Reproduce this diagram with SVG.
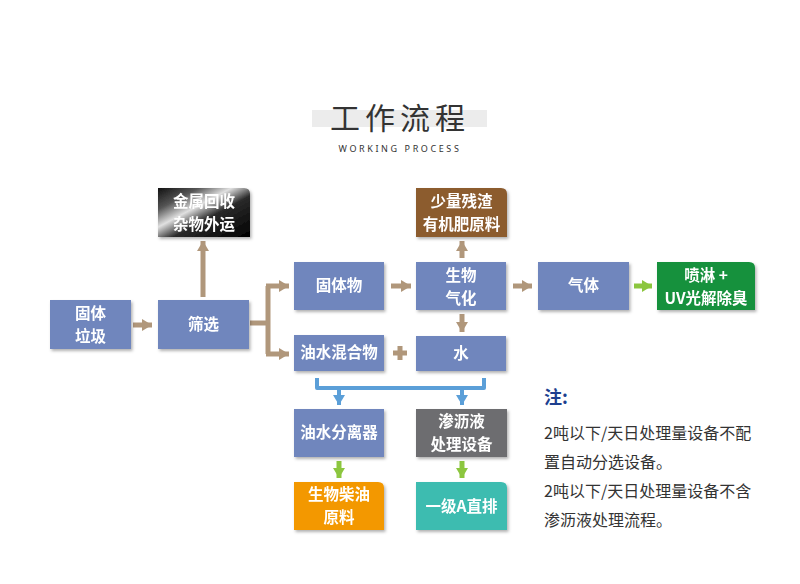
<svg xmlns="http://www.w3.org/2000/svg" width="800" height="584" viewBox="0 0 800 584">
<defs>
<filter id="sh" x="-10%" y="-10%" width="130%" height="140%">
<feDropShadow dx="1.5" dy="2" stdDeviation="1.5" flood-color="#000" flood-opacity="0.3"/>
</filter>
<linearGradient id="metal" x1="0" y1="0" x2="1" y2="1">
<stop offset="0" stop-color="#111"/>
<stop offset="0.22" stop-color="#555"/>
<stop offset="0.4" stop-color="#e0e0e0"/>
<stop offset="0.58" stop-color="#2a2a2a"/>
<stop offset="1" stop-color="#000"/>
</linearGradient>
<marker id="ab" viewBox="0 0 10 12" refX="10" refY="6" markerWidth="10" markerHeight="12" markerUnits="userSpaceOnUse" orient="auto">
<path d="M0,0 L10,6 L0,12 Z" fill="#b0977b"/>
</marker>
<marker id="ag" viewBox="0 0 10 12" refX="10" refY="6" markerWidth="10" markerHeight="12" markerUnits="userSpaceOnUse" orient="auto">
<path d="M0,0 L10,6 L0,12 Z" fill="#8cc63f"/>
</marker>
<marker id="abl" viewBox="0 0 10 12" refX="10" refY="6" markerWidth="10" markerHeight="12" markerUnits="userSpaceOnUse" orient="auto">
<path d="M0,0 L10,6 L0,12 Z" fill="#5b9fd8"/>
</marker>
</defs>
<style>
.t{font-family:"Noto Sans CJK SC","Noto Sans",sans-serif;font-weight:bold;font-size:15.5px;fill:#fff;text-anchor:middle}
.blue{fill:#6f86bd}
.cb{fill:none;stroke:#b0977b;stroke-width:5}
.cg{fill:none;stroke:#8cc63f;stroke-width:5}
.cbl{fill:none;stroke:#5b9fd8;stroke-width:4}
.note{font-family:"Noto Sans CJK SC","Noto Sans",sans-serif;font-size:16px;fill:#333}
</style>
<rect width="800" height="584" fill="#fff"/>
<g id="title">
<rect x="312" y="110" width="175" height="17" fill="#ececec"/>
<text x="400" y="129" text-anchor="middle" font-family="Noto Sans CJK SC, sans-serif" font-size="30" fill="#333" letter-spacing="5">工作流程</text>
<text x="400" y="152" text-anchor="middle" font-family="Noto Sans, sans-serif" font-size="9" fill="#333" letter-spacing="2.6">WORKING PROCESS</text>
</g>
<g id="connectors">
<path class="cb" d="M133,325 H152" marker-end="url(#ab)"/>
<path class="cb" d="M203,297 V241" marker-end="url(#ab)"/>
<path class="cb" d="M250,323 H268"/>
<path class="cb" d="M268,286 V354"/>
<path class="cb" d="M266,286 H289" marker-end="url(#ab)"/>
<path class="cb" d="M266,354 H289" marker-end="url(#ab)"/>
<path class="cb" d="M391,286 H411" marker-end="url(#ab)"/>
<path class="cb" d="M462,258 V241" marker-end="url(#ab)"/>
<path class="cb" d="M462,314 V332" marker-end="url(#ab)"/>
<path class="cb" d="M513,286 H532" marker-end="url(#ab)"/>
<path class="cg" d="M634,286 H652" marker-end="url(#ag)"/>
<path d="M400,346 V360 M393,353 H407" stroke="#b0977b" stroke-width="5" fill="none"/>
<path class="cbl" d="M317,378 V388 H484 V378" stroke-linejoin="round"/>
<path class="cbl" d="M339,388 V405" marker-end="url(#abl)"/>
<path class="cbl" d="M462,388 V405" marker-end="url(#abl)"/>
<path class="cg" d="M339,461 V478" marker-end="url(#ag)"/>
<path class="cg" d="M462,461 V478" marker-end="url(#ag)"/>
</g>
<g id="n-gutilaji" filter="url(#sh)">
<rect class="blue" x="50" y="300" width="81" height="49"/>
<text class="t" x="90.5" y="318.5">固体</text>
<text class="t" x="90.5" y="341.5">垃圾</text>
</g>
<g id="n-shaixuan" filter="url(#sh)">
<rect class="blue" x="158" y="300" width="91" height="49"/>
<text class="t" x="203.5" y="330">筛选</text>
</g>
<g id="n-jinshu" filter="url(#sh)">
<path d="M158,188 H244 Q250,188 250,194 V237 H158 Z" fill="url(#metal)"/>
<text class="t" x="204" y="206.5">金属回收</text>
<text class="t" x="204" y="229.5">杂物外运</text>
</g>
<g id="n-gutiwu" filter="url(#sh)">
<rect class="blue" x="294" y="262" width="90" height="48"/>
<text class="t" x="339" y="291">固体物</text>
</g>
<g id="n-youshui" filter="url(#sh)">
<rect class="blue" x="294" y="335" width="90" height="36"/>
<text class="t" x="339" y="358">油水混合物</text>
</g>
<g id="n-shengwu" filter="url(#sh)">
<rect class="blue" x="416" y="262" width="90" height="48"/>
<text class="t" x="461" y="280.5">生物</text>
<text class="t" x="461" y="303.5">气化</text>
</g>
<g id="n-canzha" filter="url(#sh)">
<path d="M416,188 H501 Q507,188 507,194 V237 H416 Z" fill="#8c5b2f"/>
<text class="t" x="461.5" y="206.5">少量残渣</text>
<text class="t" x="461.5" y="229.5">有机肥原料</text>
</g>
<g id="n-shui" filter="url(#sh)">
<rect class="blue" x="416" y="336" width="90" height="35"/>
<text class="t" x="461" y="359">水</text>
</g>
<g id="n-qiti" filter="url(#sh)">
<rect class="blue" x="538" y="262" width="91" height="48"/>
<text class="t" x="583.5" y="291">气体</text>
</g>
<g id="n-penlin" filter="url(#sh)">
<path d="M657,262 H749 Q755,262 755,268 V310 H657 Z" fill="#14913c"/>
<text class="t" x="706" y="280.5">喷淋 +</text>
<text class="t" x="706" y="303.5">UV光解除臭</text>
</g>
<g id="n-fenli" filter="url(#sh)">
<rect class="blue" x="294" y="409" width="90" height="48"/>
<text class="t" x="339" y="438">油水分离器</text>
</g>
<g id="n-shenli" filter="url(#sh)">
<rect x="416" y="409" width="91" height="48" fill="#6d6d6f"/>
<text class="t" x="461.5" y="427">渗沥液</text>
<text class="t" x="461.5" y="450">处理设备</text>
</g>
<g id="n-chaiyou" filter="url(#sh)">
<path d="M294,482 H378 Q384,482 384,488 V530 H294 Z" fill="#f39800"/>
<text class="t" x="339" y="500">生物柴油</text>
<text class="t" x="339" y="523">原料</text>
</g>
<g id="n-yiji" filter="url(#sh)">
<path d="M416,482 H501 Q507,482 507,488 V530 H416 Z" fill="#3cbcb0"/>
<text class="t" x="461.5" y="512">一级A直排</text>
</g>
<g id="notes">
<text x="544" y="404" font-family="Noto Sans CJK SC, sans-serif" font-weight="bold" font-size="18" fill="#1d3f8f">注:</text>
<text class="note" x="544" y="439">2吨以下/天日处理量设备不配</text>
<text class="note" x="544" y="468">置自动分选设备。</text>
<text class="note" x="544" y="497">2吨以下/天日处理量设备不含</text>
<text class="note" x="544" y="526">渗沥液处理流程。</text>
</g>
</svg>
